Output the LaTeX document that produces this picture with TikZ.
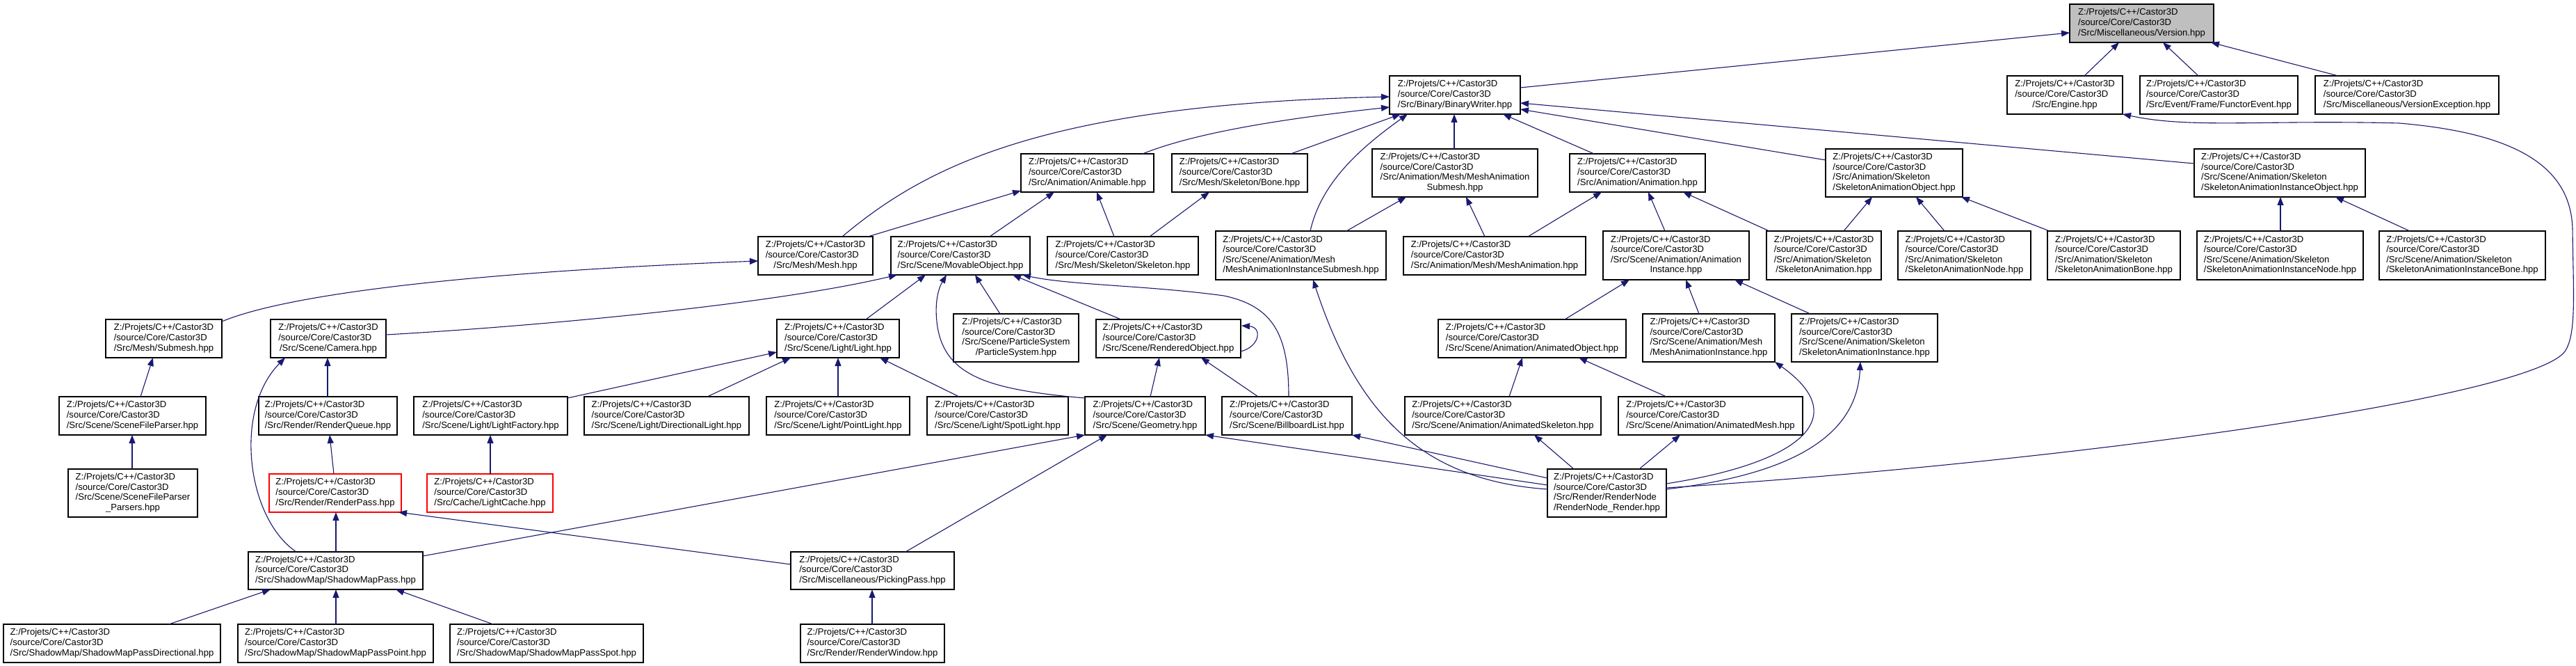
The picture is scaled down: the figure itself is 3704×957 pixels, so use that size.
\documentclass[tikz,border=0pt]{standalone}
\usepackage{fontspec}
\setmainfont{Liberation Sans}
\usetikzlibrary{arrows.meta,calc}
\definecolor{edgeblue}{RGB}{25,25,112}
\definecolor{grayfill}{RGB}{191,191,191}
\definecolor{redline}{RGB}{255,0,0}
\newcommand\lblA[1]{\begin{tabular}{@{}l@{}}Z:/Projets/C++/Castor3D\\/source/Core/Castor3D\\\multicolumn{1}{@{}c@{}}{#1}\end{tabular}}
\newcommand\lblB[2]{\begin{tabular}{@{}l@{}}Z:/Projets/C++/Castor3D\\/source/Core/Castor3D\\#1\\\multicolumn{1}{@{}c@{}}{#2}\end{tabular}}
\newcommand\mknode[7][]{\node[filebox,#1,minimum width=#5pt,minimum height=#6pt] (#2) at (#3,#4) {#7};}
\newcommand\lk[6]{\draw[edge] ($(#1.north west)+(#2,#3)$) -- ($(#4.north west)+(#5,#6)$);}
\tikzset{
  filebox/.style={draw=black, line width=1.4pt, fill=white, inner sep=0pt, outer sep=0pt,
    anchor=north west, font=\fontsize{13.1}{14.6}\selectfont},
  grayed/.style={fill=grayfill},
  redbox/.style={draw=redline},
  edge/.style={draw=edgeblue, line width=1.1pt, -{Triangle[length=12pt,width=9pt]}}
}
\begin{document}
\begin{tikzpicture}[x=1pt,y=-1pt]
\path[use as bounding box, fill=white] (0,0) rectangle (3704,957);
% nodes
\mknode[grayed]{ver}{2976}{6}{207}{55}{\lblA{/Src/Miscellaneous/Version.hpp}}
\mknode{bw}{1998}{109}{188}{55}{\lblA{/Src/Binary/BinaryWriter.hpp}}
\mknode{eng}{2886}{109}{166}{55}{\lblA{/Src/Engine.hpp}}
\mknode{fe}{3077}{109}{227}{55}{\lblA{/Src/Event/Frame/FunctorEvent.hpp}}
\mknode{vex}{3329}{109}{264}{55}{\lblA{/Src/Miscellaneous/VersionException.hpp}}
\mknode{anim}{1468}{221}{191}{55}{\lblA{/Src/Animation/Animable.hpp}}
\mknode{bone}{1685}{221}{195}{55}{\lblA{/Src/Mesh/Skeleton/Bone.hpp}}
\mknode{mas}{1973}{214}{238}{69}{\lblB{/Src/Animation/Mesh/MeshAnimation}{Submesh.hpp}}
\mknode{ani}{2257}{221}{195}{55}{\lblA{/Src/Animation/Animation.hpp}}
\mknode{sao}{2625}{214}{197}{69}{\lblB{/Src/Animation/Skeleton}{/SkeletonAnimationObject.hpp}}
\mknode{saio}{3155}{214}{246}{69}{\lblB{/Src/Scene/Animation/Skeleton}{/SkeletonAnimationInstanceObject.hpp}}
\mknode{mesh}{1090}{340}{165}{55}{\lblA{/Src/Mesh/Mesh.hpp}}
\mknode{mov}{1281}{340}{200}{55}{\lblA{/Src/Scene/MovableObject.hpp}}
\mknode{skel}{1506}{340}{217}{55}{\lblA{/Src/Mesh/Skeleton/Skeleton.hpp}}
\mknode{mais}{1748}{332}{245}{70}{\lblB{/Src/Scene/Animation/Mesh}{/MeshAnimationInstanceSubmesh.hpp}}
\mknode{ma}{2018}{340}{262}{55}{\lblA{/Src/Animation/Mesh/MeshAnimation.hpp}}
\mknode{ainst}{2305}{332}{210}{70}{\lblB{/Src/Scene/Animation/Animation}{Instance.hpp}}
\mknode{sa}{2540}{332}{165}{70}{\lblB{/Src/Animation/Skeleton}{/SkeletonAnimation.hpp}}
\mknode{san}{2729}{332}{191}{70}{\lblB{/Src/Animation/Skeleton}{/SkeletonAnimationNode.hpp}}
\mknode{sab}{2944}{332}{191}{70}{\lblB{/Src/Animation/Skeleton}{/SkeletonAnimationBone.hpp}}
\mknode{sain}{3159}{332}{239}{70}{\lblB{/Src/Scene/Animation/Skeleton}{/SkeletonAnimationInstanceNode.hpp}}
\mknode{saib}{3421}{332}{239}{70}{\lblB{/Src/Scene/Animation/Skeleton}{/SkeletonAnimationInstanceBone.hpp}}
\mknode{sub}{152}{459}{167}{55}{\lblA{/Src/Mesh/Submesh.hpp}}
\mknode{cam}{389}{459}{166}{55}{\lblA{/Src/Scene/Camera.hpp}}
\mknode{light}{1117}{459}{176}{55}{\lblA{/Src/Scene/Light/Light.hpp}}
\mknode{ps}{1371}{451}{180}{69}{\lblB{/Src/Scene/ParticleSystem}{/ParticleSystem.hpp}}
\mknode{ro}{1576}{459}{208}{55}{\lblA{/Src/Scene/RenderedObject.hpp}}
\mknode{ao}{2068}{459}{270}{55}{\lblA{/Src/Scene/Animation/AnimatedObject.hpp}}
\mknode{mai}{2362}{451}{190}{69}{\lblB{/Src/Scene/Animation/Mesh}{/MeshAnimationInstance.hpp}}
\mknode{sai}{2576}{451}{210}{69}{\lblB{/Src/Scene/Animation/Skeleton}{/SkeletonAnimationInstance.hpp}}
\mknode{sfp}{85}{570}{211}{55}{\lblA{/Src/Scene/SceneFileParser.hpp}}
\mknode{rq}{372}{570}{199}{55}{\lblA{/Src/Render/RenderQueue.hpp}}
\mknode{lf}{595}{570}{221}{55}{\lblA{/Src/Scene/Light/LightFactory.hpp}}
\mknode{dl}{840}{570}{237}{55}{\lblA{/Src/Scene/Light/DirectionalLight.hpp}}
\mknode{pl}{1102}{570}{206}{55}{\lblA{/Src/Scene/Light/PointLight.hpp}}
\mknode{sl}{1333}{570}{203}{55}{\lblA{/Src/Scene/Light/SpotLight.hpp}}
\mknode{geo}{1560}{570}{173}{55}{\lblA{/Src/Scene/Geometry.hpp}}
\mknode{bb}{1757}{570}{187}{55}{\lblA{/Src/Scene/BillboardList.hpp}}
\mknode{ask}{2020}{570}{282}{55}{\lblA{/Src/Scene/Animation/AnimatedSkeleton.hpp}}
\mknode{am}{2327}{570}{265}{55}{\lblA{/Src/Scene/Animation/AnimatedMesh.hpp}}
\mknode{sfpp}{98}{674}{186}{69}{\lblB{/Src/Scene/SceneFileParser}{\_Parsers.hpp}}
\mknode[redbox]{rp}{387}{681}{190}{55}{\lblA{/Src/Render/RenderPass.hpp}}
\mknode[redbox]{lc}{614}{681}{181}{55}{\lblA{/Src/Cache/LightCache.hpp}}
\mknode{rnr}{2225}{674}{171}{69}{\lblB{/Src/Render/RenderNode}{/RenderNode\_Render.hpp}}
\mknode{smp}{357}{793}{251}{54}{\lblA{/Src/ShadowMap/ShadowMapPass.hpp}}
\mknode{pick}{1137}{793}{235}{54}{\lblA{/Src/Miscellaneous/PickingPass.hpp}}
\mknode{smpd}{5}{897}{312}{55}{\lblA{/Src/ShadowMap/ShadowMapPassDirectional.hpp}}
\mknode{smpp}{342}{897}{281}{55}{\lblA{/Src/ShadowMap/ShadowMapPassPoint.hpp}}
\mknode{smps}{647}{897}{278}{55}{\lblA{/Src/ShadowMap/ShadowMapPassSpot.hpp}}
\mknode{rw}{1151}{897}{207}{55}{\lblA{/Src/Render/RenderWindow.hpp}}
% straight edges
\lk{bw}{188}{17}{ver}{0}{41}
\lk{eng}{111}{0}{ver}{71}{55}
\lk{fe}{84}{0}{ver}{134}{55}
\lk{vex}{33}{0}{ver}{203}{55}
\lk{bone}{171}{0}{bw}{16}{55}
\lk{mas}{118}{0}{bw}{93}{55}
\lk{ani}{35}{0}{bw}{163}{55}
\lk{sao}{0}{16}{bw}{188}{48}
\lk{saio}{0}{21}{bw}{188}{39}
\lk{mesh}{158}{0}{anim}{0}{53}
\lk{mov}{142}{0}{anim}{48}{55}
\lk{skel}{96}{0}{anim}{109}{55}
\lk{skel}{147}{0}{bone}{54}{55}
\lk{mais}{188}{0}{mas}{49}{69}
\lk{ma}{117}{0}{mas}{135}{69}
\lk{ma}{179}{0}{ani}{46}{55}
\lk{ainst}{89}{0}{ani}{113}{55}
\lk{sa}{4}{0}{ani}{163}{55}
\lk{sa}{111}{0}{sao}{67}{69}
\lk{san}{67}{0}{sao}{130}{69}
\lk{sab}{3}{0}{sao}{195}{69}
\lk{sain}{120}{0}{saio}{124}{69}
\lk{saib}{44}{0}{saio}{203}{69}
\lk{light}{128}{0}{mov}{50}{55}
\lk{ps}{67}{0}{mov}{121}{55}
\lk{ro}{36}{0}{mov}{175}{55}
\lk{geo}{94}{0}{ro}{91}{55}
\lk{bb}{52}{0}{ro}{151}{55}
\lk{dl}{177}{0}{light}{20}{55}
\lk{pl}{103}{0}{light}{88}{55}
\lk{sl}{46}{0}{light}{148}{55}
\lk{lf}{221}{2}{light}{0}{47}
\lk{ao}{182}{0}{ainst}{38}{70}
\lk{mai}{81}{0}{ainst}{119}{70}
\lk{sai}{27}{0}{ainst}{189}{70}
\lk{ask}{150}{0}{ao}{121}{55}
\lk{am}{69}{0}{ao}{202}{55}
\lk{sfp}{117}{0}{sub}{68}{55}
\lk{sfpp}{92}{0}{sfp}{105}{55}
\lk{rq}{99}{0}{cam}{82}{55}
\lk{rp}{93}{0}{rq}{102}{55}
\lk{lc}{91}{0}{lf}{110}{55}
\lk{smp}{126}{0}{rp}{96}{55}
\lk{pick}{0}{18}{rp}{186}{55}
\lk{smp}{251}{6}{geo}{0}{55}
\lk{pick}{165}{0}{geo}{32}{55}
\lk{smpd}{238}{0}{smp}{32}{54}
\lk{smpp}{141}{0}{smp}{126}{54}
\lk{smps}{62}{0}{smp}{212}{54}
\lk{rw}{103}{0}{pick}{117}{54}
\lk{rnr}{0}{23}{geo}{173}{55}
\lk{rnr}{0}{13}{bb}{187}{55}
\lk{rnr}{38}{0}{ask}{186}{55}
\lk{rnr}{132}{0}{am}{89}{55}
% curved edges
\draw[edge] ($(rnr.north west)+(171,27)$) .. controls (3000,662) and (3640,570) .. (3688,505)
  .. controls (3705,480) and (3700,420) .. (3699,330)
  .. controls (3697,230) and (3600,190) .. (3450,177)
  .. controls (3250,172) and (3150,185) .. (eng.south east);
\draw[edge] ($(mesh.north west)+(121,0)$) .. controls (1330,240) and (1500,150) .. ($(bw.north west)+(0,30)$);
\draw[edge] ($(anim.north west)+(175,0)$) .. controls (1720,190) and (1850,170) .. ($(bw.north west)+(0,45)$);
\draw[edge] ($(mais.north west)+(136,0)$) .. controls (1900,260) and (1960,210) .. ($(bw.north west)+(26,55)$);
\draw[edge] ($(sub.north west)+(167,3)$) .. controls (420,420) and (700,390) .. ($(mesh.north west)+(0,35)$);
\draw[edge] ($(cam.north west)+(166,22)$) .. controls (750,470) and (1100,440) .. ($(mov.north west)+(9,55)$);
\draw[edge] ($(geo.north west)+(0,2)$) .. controls (1420,560) and (1360,540) .. (1348,470)
  .. controls (1342,430) and (1352,410) .. ($(mov.north west)+(80,55)$);
\draw[edge] ($(bb.north west)+(96,0)$) .. controls (1853,480) and (1830,440) .. (1760,425)
  .. controls (1650,410) and (1540,410) .. ($(mov.north west)+(189,55)$);
\draw[edge] ($(ro.north west)+(208,46)$) .. controls (1812,498) and (1815,470) .. ($(ro.north west)+(209,9)$);
\draw[edge] ($(smp.north west)+(69,0)$) .. controls (355,745) and (335,590) .. ($(cam.north west)+(21,55)$);
\draw[edge] ($(rnr.north west)+(0,29)$) .. controls (2040,690) and (1950,590) .. ($(mais.north west)+(140,70)$);
\draw[edge] ($(rnr.north west)+(171,21)$) .. controls (2590,665) and (2665,600) .. (mai.south east);
\draw[edge] ($(rnr.north west)+(171,29)$) .. controls (2590,680) and (2670,620) .. ($(sai.north west)+(99,69)$);
\end{tikzpicture}
\end{document}
